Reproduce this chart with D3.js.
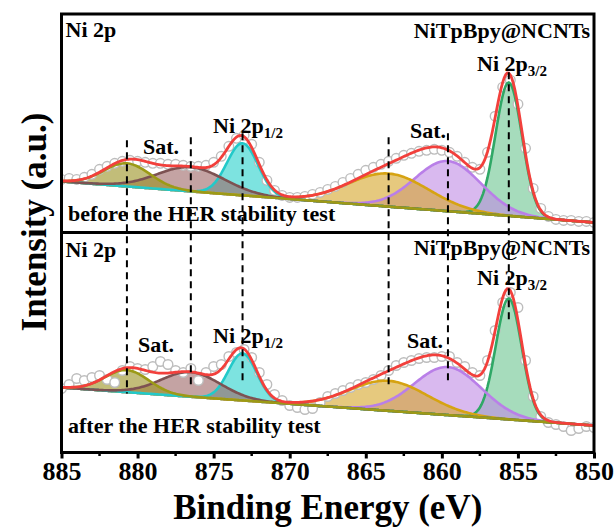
<!DOCTYPE html>
<html>
<head>
<meta charset="utf-8">
<script src="https://cdn.jsdelivr.net/npm/d3@7"></script>
<style>
  body { margin: 0; background: #fff; }
  svg { display: block; }
  svg text { font-family: "Liberation Serif", "Times New Roman", Times, "Nimbus Roman", "DejaVu Serif", serif; font-weight: 700; fill: #000; }
</style>
</head>
<body>
<svg id="chart" width="616" height="529"></svg>
<script>
// Ni 2p XPS of NiTpBpy@NCNTs, raw counts sampled every 0.5 eV from 885 to 850 eV
const energyStart = 885;
const energyStep = 0.5;
const beforeCounts = [
  53, 54, 53, 55, 58, 63, 66, 69, 71, 72, 71, 70, 69, 69, 68, 68, 67, 66, 66, 67,
  70, 76, 86, 94, 97, 88, 70, 52, 42, 37, 35, 35, 36, 38, 40, 43, 46, 50, 54, 58,
  62, 65, 68, 71, 74, 77, 79, 81, 82, 83, 82, 80, 76, 70, 65, 63, 80, 116, 145, 152,
  128, 84, 44, 24, 16, 13, 12, 12, 11, 11, 10
];
const afterCounts = [
  64, 68, 74, 72, 75, 77, 73, 70, 82, 86, 84, 83, 86, 91, 88, 82, 80, 84, 72, 80,
  86, 88, 96, 100, 103, 95, 80, 68, 58, 52, 47, 45, 43, 44, 50, 56, 59, 62, 65, 68,
  70, 73, 77, 82, 87, 90, 92, 94, 95, 95, 96, 96, 90, 86, 80, 77, 92, 122, 150, 160,
  145, 92, 56, 36, 30, 28, 26, 22, 24, 26, 25
];

// Fitted components: Ni 2p1/2 satellites, Ni 2p1/2, Ni 2p3/2 satellites, Ni 2p3/2
const peakCenters   = [880.7, 876.5, 873.1, 863.5, 859.6, 855.6];
const beforeHeights = [23, 24, 52, 33, 50, 133];
const beforeFwhm    = [3.6, 5.2, 2.4, 6.2, 5.1, 2.05];
const afterHeights  = [22, 24.5, 47, 30, 48, 121];
const afterFwhm     = [3.4, 4.6, 2.2, 6.0, 5.2, 2.0];
// linear background at 885 eV and 850 eV
const beforeBackground = [51, 10];
const afterBackground  = [65, 27];

// peak position guides: reach in upper-panel units and in lower-panel units
const guideEnergies = [880.7, 876.5, 873.1, 863.5, 859.6, 855.6];
const guideTop      = [92, 95, 99, 95, 99, 160];
const guideBottom   = [59, 64, 72, 64, 69, 132];

const xTicks = [885, 880, 875, 870, 865, 860, 855, 850];
const xMinorTicks = [882.5, 877.5, 872.5, 867.5, 862.5, 857.5, 852.5];

const strokeColors = ["#9c9a16", "#7d5252", "#22c9c9", "#d6a312", "#b97fe8", "#2fa866"];
const fillColors   = ["#99911f", "#9d6666", "#26d0cb", "#d5a528", "#c08ae4", "#6bc58f"];

const serifFont = '"Liberation Serif", "Times New Roman", Times, "Nimbus Roman", "DejaVu Serif", serif';

(function draw() {
  const svg = d3.select("#chart");
  const left = 61.5, right = 594, plotTop = 14, mid = 232.5, plotBottom = 452.5;

  const x = d3.scaleLinear().domain([885, 850]).range([left, right]);
  const yUpper = d3.scaleLinear().domain([0, 218]).range([mid, plotTop]);
  const yLower = d3.scaleLinear().domain([0, 220]).range([plotBottom, mid]);

  const panels = [
    { counts: beforeCounts, heights: beforeHeights, fwhm: beforeFwhm, bg: beforeBackground, y: yUpper, y0: plotTop, y1: mid, id: "upper" },
    { counts: afterCounts, heights: afterHeights, fwhm: afterFwhm, bg: afterBackground, y: yLower, y0: mid, y1: plotBottom, id: "lower" }
  ];

  const fine = d3.range(0, 351).map(i => 885 - i * 0.1);
  const gauss = (e, c, h, w) => h * Math.exp(-4 * Math.LN2 * (e - c) * (e - c) / (w * w));

  const defs = svg.append("defs");

  panels.forEach(p => {
    defs.append("clipPath").attr("id", "clip-" + p.id)
      .append("rect").attr("x", left).attr("y", p.y0).attr("width", right - left).attr("height", p.y1 - p.y0);

    const bgAt = e => p.bg[1] + (e - 850) / 35 * (p.bg[0] - p.bg[1]);
    const g = svg.append("g").attr("clip-path", `url(#clip-${p.id})`);

    const comps = peakCenters.map((c, i) => fine.map(e => ({ e, b: bgAt(e), v: gauss(e, c, p.heights[i], p.fwhm[i]) })));
    const order = [5, 4, 3, 2, 1, 0];

    // component areas
    order.forEach(i => {
      g.append("path")
        .datum(comps[i])
        .attr("fill", fillColors[i])
        .attr("fill-opacity", 0.6)
        .attr("d", d3.area().x(d => x(d.e)).y0(d => p.y(d.b)).y1(d => p.y(d.b + d.v)));
    });

    // measured points
    g.selectAll("circle.pt")
      .data(p.counts)
      .join("circle")
      .attr("class", "pt")
      .attr("cx", (d, i) => x(energyStart - i * energyStep))
      .attr("cy", d => p.y(d))
      .attr("r", 4.8)
      .attr("fill", "#fff")
      .attr("stroke", "#bdbdbd")
      .attr("stroke-width", 1.4);

    // component outlines
    order.forEach(i => {
      g.append("path")
        .datum(comps[i])
        .attr("fill", "none")
        .attr("stroke", strokeColors[i])
        .attr("stroke-width", 2.6)
        .attr("d", d3.line().x(d => x(d.e)).y(d => p.y(d.b + d.v)));
    });

    // cumulative envelope
    const envelope = fine.map(e => ({ e, v: bgAt(e) + peakCenters.reduce((s, c, i) => s + gauss(e, c, p.heights[i], p.fwhm[i]), 0) }));
    g.append("path")
      .datum(envelope)
      .attr("fill", "none")
      .attr("stroke", "#f2403c")
      .attr("stroke-width", 2.8)
      .attr("d", d3.line().x(d => x(d.e)).y(d => p.y(d.v)));
  });

  // dashed peak guides across both panels
  svg.append("g").selectAll("line")
    .data(guideEnergies)
    .join("line")
    .attr("x1", d => x(d)).attr("x2", d => x(d))
    .attr("y1", (d, i) => yUpper(guideTop[i]))
    .attr("y2", (d, i) => yLower(guideBottom[i]))
    .attr("stroke", "#000")
    .attr("stroke-width", 2)
    .attr("stroke-dasharray", "7,5");

  // frame and panel divider
  svg.append("rect")
    .attr("x", left).attr("y", plotTop).attr("width", right - left).attr("height", plotBottom - plotTop)
    .attr("fill", "none").attr("stroke", "#000").attr("stroke-width", 3);
  svg.append("line")
    .attr("x1", left).attr("x2", right).attr("y1", mid).attr("y2", mid)
    .attr("stroke", "#000").attr("stroke-width", 3);

  // bottom axis
  const axis = svg.append("g").attr("transform", `translate(0,${plotBottom})`);
  axis.call(d3.axisBottom(x).tickValues(xTicks).tickSize(6).tickSizeOuter(0).tickPadding(3).tickFormat(d3.format("d")));
  axis.attr("font-family", serifFont).attr("font-size", 26);
  axis.select(".domain").remove();
  axis.selectAll(".tick line").attr("stroke", "#000").attr("stroke-width", 3);
  axis.selectAll(".tick text")
    .attr("fill", "#000")
    .attr("font-family", serifFont)
    .attr("font-weight", 700)
    .attr("font-size", 26);
  axis.selectAll(".minor")
    .data(xMinorTicks)
    .join("line")
    .attr("class", "minor")
    .attr("x1", d => x(d)).attr("x2", d => x(d))
    .attr("y1", 0).attr("y2", 3.5)
    .attr("stroke", "#000").attr("stroke-width", 2.5);

  // axis titles
  svg.append("text")
    .attr("x", (left + right) / 2).attr("y", 519)
    .attr("text-anchor", "middle").attr("font-size", 35)
    .attr("font-family", serifFont).attr("font-weight", 700)
    .text("Binding Energy (eV)");
  svg.append("text")
    .attr("transform", "translate(46,222) rotate(-90)")
    .attr("text-anchor", "middle").attr("font-size", 35)
    .attr("font-family", serifFont).attr("font-weight", 700)
    .text("Intensity (a.u.)");

  // annotations
  function label(xp, yp, main, sub, anchor) {
    const t = svg.append("text").attr("x", xp).attr("y", yp).attr("font-size", 22)
      .attr("font-family", serifFont).attr("font-weight", 700)
      .attr("text-anchor", anchor || "start");
    t.append("tspan").text(main);
    if (sub) t.append("tspan").attr("font-size", 15).attr("dy", 5).text(sub);
  }
  const panelLabels = [
    { note: "before the HER stability test", noteY: 221, sat1: [143, 154], sat2: [410, 138], p12: [213, 133], p32: [477, 71], name: 38, el: 37 },
    { note: "after the HER stability test", noteY: 433, sat1: [138, 352], sat2: [407, 348], p12: [213, 343], p32: [477, 285], name: 255, el: 257 }
  ];
  panelLabels.forEach(L => {
    label(left + 4, L.el, "Ni 2p");
    label(590, L.name, "NiTpBpy@NCNTs", null, "end");
    label(L.p32[0], L.p32[1], "Ni 2p", "3/2");
    label(L.p12[0], L.p12[1], "Ni 2p", "1/2");
    label(L.sat1[0], L.sat1[1], "Sat.");
    label(L.sat2[0], L.sat2[1], "Sat.");
    label(68, L.noteY, L.note);
  });
})();
</script>
</body>
</html>
